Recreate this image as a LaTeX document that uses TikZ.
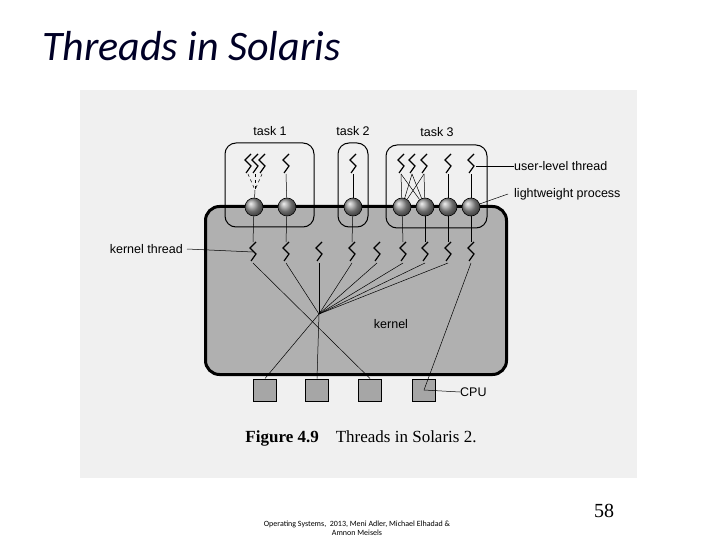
\documentclass[tikz,border=0pt]{standalone}
\usepackage{fontspec}
\setmainfont{Liberation Serif}
\newfontfamily\lsans{Liberation Sans}
\newfontfamily\calib{Carlito}
\usetikzlibrary{shadows}
\begin{document}
\begin{tikzpicture}[x=1pt,y=-1pt,
  lbl/.style={font=\lsans\fontsize{12.5}{12.5}\selectfont,inner sep=0},
  thin line/.style={line width=0.5pt},
  ball/.style={circle,minimum size=18pt,inner sep=0,draw=black,line width=0.6pt,ball color=gray!80},
  cpu/.style={rectangle,draw=black,line width=1pt,fill=gray!70,minimum width=23pt,minimum height=22pt,inner sep=0},
  taskbox/.style={draw=black,line width=1pt,rounded corners=11pt},
  sq/.pic={\draw[line width=1.2pt,line join=miter] (3,-10) -- (-3,-4) -- (3,2) -- (-2,9);}
]
\useasboundingbox (0,0) rectangle (720,540);
\fill[white] (0,0) rectangle (720,540);
\fill[gray!12] (80,90) rectangle (637,478);
% title
\node[anchor=west,inner sep=0,font=\calib\itshape\fontsize{42}{42}\selectfont,text=black!85!blue] (title) at (42,46) {Threads in Solaris};
% kernel
\node[draw=black,line width=3pt,rounded corners=14pt,fill=gray!62,minimum width=301pt,minimum height=168pt,anchor=north west,inner sep=0] (kern) at (204,205) {};
% task boxes
\draw[taskbox] (225,143) rectangle (314,227);
\draw[taskbox] (338,143) rectangle (368,227);
\draw[taskbox] (386,145) rectangle (487,228);
\node[lbl] (t1) at (270,131) {task 1};
\node[lbl] (t2) at (353,131) {task 2};
\node[lbl] (t3) at (437,132) {task 3};
% user threads
\foreach \n/\x in {u1/248,u2/255,u3/262,u4/286,u5/353,u6/401,u7/412,u8/424,u9/448,u10/471}{
  \coordinate (\n) at (\x,164);
  \pic at (\n) {sq};
  \coordinate (\n b) at (\x,174);
}
% balls
\foreach \n/\x in {b1/254,b2/287,b3/353,b4/402,b5/425,b6/448,b7/471}{
  \node[ball] (\n) at (\x,207) {};
}
% kernel threads
\foreach \n/\x in {k1/253,k2/286,k3/319,k4/352,k5/377,k6/403,k7/425,k8/448,k9/471}{
  \coordinate (\n) at (\x,252);
  \pic at (\n) {sq};
  \coordinate (\n t) at (\x,242);
  \coordinate (\n b) at (\x,263);
}
% user to lwp
\coordinate (ymerge) at (255,190);
\foreach \u in {u1,u2,u3} \draw[thin line,dashed] (\u b) -- (ymerge);
\draw[thin line] (ymerge) -- (b1);
\draw[thin line] (u4b) -- (b2);
\draw[thin line] (u5b) -- (b3);
\foreach \u in {u6,u7,u8} {\draw[thin line] (\u b) -- (b4); \draw[thin line] (\u b) -- (b5);}
\draw[thin line] (u9b) -- (b6);
\draw[thin line] (u10b) -- (b7);
% lwp to kernel threads
\foreach \b/\k in {b1/k1,b2/k2,b3/k4,b4/k6,b5/k7,b6/k8,b7/k9} \draw[thin line] (\b) -- (\k t);
% cpus
\foreach \n/\x in {c1/265,c2/317,c3/370,c4/424}{
  \node[cpu] (\n) at (\x,390) {};
}
\coordinate (P) at (319,314);
\foreach \k in {k2,k3,k4,k5,k6,k7,k8} \draw[thin line] (\k b) -- (P);
\draw[thin line] (k1b) -- (c3.north);
\draw[thin line] (P) -- (c1.north);
\draw[thin line] (P) -- (c2.north);
\draw[thin line] (k9b) -- (c4.center);
% labels
\node[lbl,anchor=west] (ult) at (514,166) {user-level thread};
\draw[thin line] (476,166) -- (ult.west);
\node[lbl,anchor=west] (lwp) at (514,194) {lightweight process};
\draw[thin line] (b7) -- (508,194);
\node[lbl,anchor=east] (kt) at (183,249) {kernel thread};
\draw[thin line] (kt.east) ++(4,0) -- (k1);
\node[lbl] (kl) at (391,324) {kernel};
\node[lbl,anchor=west] (cpul) at (460,392) {CPU};
\draw[thin line] (c4.center) -- (cpul.west);
% caption
\node[inner sep=0,font=\fontsize{17}{17}\selectfont] (cap) at (361,438) {\textbf{Figure 4.9}\quad Threads in Solaris 2.};
% footer
\node[inner sep=0,font=\calib\fontsize{8}{9}\selectfont,align=center,anchor=north] (foot) at (357,521) {Operating Systems,\ \ 2013, Meni Adler, Michael Elhadad \&\\ Amnon Meisels};
\node[inner sep=0,font=\fontsize{20}{20}\selectfont] (pg) at (604,511) {58};
\end{tikzpicture}
\end{document}
